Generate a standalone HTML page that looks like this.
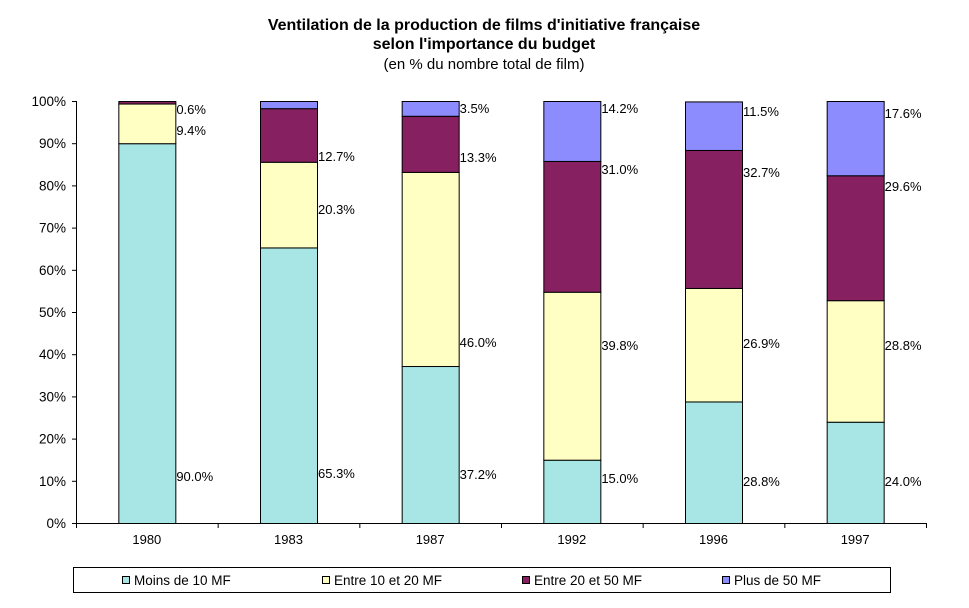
<!DOCTYPE html>
<html><head><meta charset="utf-8">
<style>
body{margin:0;background:#fff;font-family:"Liberation Sans",sans-serif;}
svg text{font-family:"Liberation Sans",sans-serif;}
</style></head>
<body>
<svg id="chart" width="969" height="603" xmlns="http://www.w3.org/2000/svg">
<text x="484" y="30" text-anchor="middle" font-size="16" font-weight="bold">Ventilation de la production de films d'initiative française</text>
<text x="484" y="49" text-anchor="middle" font-size="16" font-weight="bold">selon l'importance du budget</text>
<text x="484" y="69" text-anchor="middle" font-size="15">(en % du nombre total de film)</text>
<g id="plot"></g>
<rect x="73.5" y="567.5" width="817" height="25" fill="#fff" stroke="#000"/>
<g id="legend"></g>
</svg>
<script>
const categories=["1980","1983","1987","1992","1996","1997"];
const seriesNames=["Moins de 10 MF","Entre 10 et 20 MF","Entre 20 et 50 MF","Plus de 50 MF"];
const s1=[90.0,65.3,37.2,15.0,28.8,24.0];
const s2=[9.4,20.3,46.0,39.8,26.9,28.8];
const s3=[0.6,12.7,13.3,31.0,32.7,29.6];
const s4=[0,1.7,3.5,14.2,11.5,17.6];
const showLabel=[[1,1,1,0],[1,1,1,0],[1,1,1,1],[1,1,1,1],[1,1,1,1],[1,1,1,1]];
// label anchor level (percent scale) for each value label, as placed in the source chart
const labelLevel=[[11.1,93.1,98.1,0],[11.8,74.4,87.0,0],[11.6,42.9,86.7,98.3],[10.7,42.2,83.9,98.3],[10.0,42.7,83.2,97.6],[10.0,42.2,79.9,97.2]];
const yTicks=[0,10,20,30,40,50,60,70,80,90,100];
const colors=["#a8e6e6","#ffffc4","#862060","#8c8cff"];
const NS="http://www.w3.org/2000/svg";
const L=76,R=926,T=101,B=523;
const y=v=>B-(B-T)*v/100;
const step=(R-L)/categories.length;
const x=i=>L+step*(i+0.5);
const bw=57;
const g=document.getElementById('plot');
function mk(t,a){const e=document.createElementNS(NS,t);for(const k in a)e.setAttribute(k,a[k]);return e;}
const series=[s1,s2,s3,s4];
categories.forEach((c,i)=>{
  let acc=0;
  series.forEach((s,k)=>{
    const v=s[i];
    if(v>0){
      const r=mk('rect',{x:x(i)-bw/2+0.5,y:y(acc+v)+0.5,width:bw,height:y(acc)-y(acc+v),fill:colors[k],stroke:'#000','stroke-width':1});
      
      
      g.appendChild(r);
      if(showLabel[i][k]){
        const t=mk('text',{x:x(i)+bw/2+1,y:y(labelLevel[i][k])+5,'font-size':13});
        t.textContent=v.toFixed(1)+'%';
        
        
        g.appendChild(t);
      }
    }
    acc+=v;
  });
  const lb=mk('text',{x:x(i),y:B+21,'text-anchor':'middle','font-size':13});
  lb.textContent=c;
  
  
  g.appendChild(lb);
});
const ax=mk('path',{d:`M${L+0.5},${T} V${B+0.5} H${R}`,stroke:'#000',fill:'none'});


g.appendChild(ax);
for(let i=0;i<=categories.length;i++){
  const tk=mk('line',{x1:L+step*i+0.5,x2:L+step*i+0.5,y1:B,y2:B+5,stroke:'#000'});
  
  
  g.appendChild(tk);
}
yTicks.forEach(v=>{
  const tk=mk('line',{x1:L-4,x2:L,y1:y(v)+0.5,y2:y(v)+0.5,stroke:'#000'});
  
  
  g.appendChild(tk);
  const t=mk('text',{x:L-10,y:y(v)+5,'text-anchor':'end','font-size':13.5});
  t.textContent=v+'%';
  
  
  g.appendChild(t);
});
const lg=document.getElementById('legend');
seriesNames.forEach((n,k)=>{
  const lx=122+k*200;
  const r=mk('rect',{x:lx+0.5,y:576.5,width:7,height:7,fill:colors[k],stroke:'#000'});
  
  
  lg.appendChild(r);
  const t=mk('text',{x:lx+12,y:585,'font-size':13.5});
  t.textContent=n;
  
  
  lg.appendChild(t);
});
</script>
</body></html>
